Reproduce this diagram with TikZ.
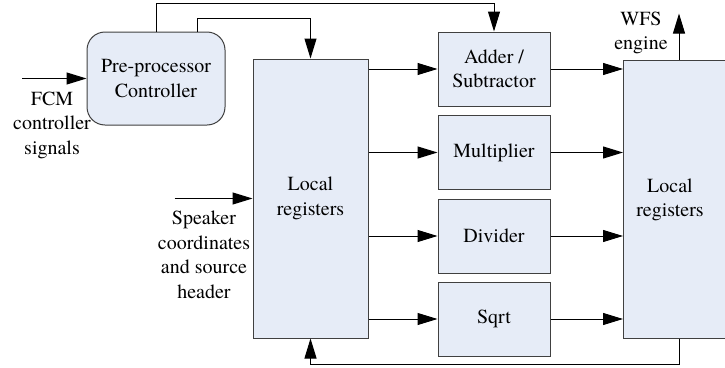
\documentclass[tikz,border=0pt]{standalone}
\usepackage{fontspec}
\setmainfont{texgyretermes-regular.otf}[BoldFont=texgyretermes-bold.otf]
\usetikzlibrary{arrows.meta}
\definecolor{boxfill}{RGB}{230,236,247}
\definecolor{boxline}{RGB}{64,64,64}
\begin{document}
\begin{tikzpicture}[x=1pt,y=-1pt,
  every node/.style={font=\fontsize{20}{24.5}\selectfont, align=center, inner sep=0pt},
  unit/.style={draw=boxline, fill=boxfill, line width=1pt, minimum width=112pt, minimum height=74pt},
  regbox/.style={draw=boxline, fill=boxfill, line width=1pt},
  arr/.style={line width=1pt, -{Triangle[length=20pt,width=12pt]}}]
\useasboundingbox (0,0) rectangle (725,367);

% controller
\node[regbox, rounded corners=18pt, minimum width=138pt, minimum height=93pt] (pre) at (156,78.5) {Pre-processor\\Controller};

% register banks
\node[regbox, minimum width=115pt, minimum height=279pt] (lreg) at (310.5,198.5) {Local\\registers};
\node[regbox, minimum width=160pt, minimum height=278pt, anchor=west] (rreg) at (623,199) {};
\node (rlabel) at (670,200) {Local\\registers};

% arithmetic units
\node[unit] (add) at (494,69) {Adder /\\Subtractor};
\node[unit] (mul) at (494,152.5) {Multiplier};
\node[unit] (div) at (494,236) {Divider};
\node[unit] (sqr) at (494,319) {Sqrt};

% external labels
\node (fcm) at (52,125) {FCM\\controller\\signals};
\node (spk) at (204,255) {Speaker\\coordinates\\and source\\header};
\node (wfs) at (641,33) {WFS\\engine};

% inputs
\coordinate (fcmin) at (22,79);
\draw[arr] (pre.west -| fcmin) -- (pre.west);
\draw[arr] ([xshift=-78pt]lreg.west) -- (lreg.west);

% control lines from the controller
\draw[arr] (pre.north) -- ++(0,-28) -| (add.north);
\draw[arr] ([xshift=41pt]pre.north) -- ++(0,-13) -| (lreg.north);

% data paths through the units
\foreach \u in {add,mul,div,sqr}{
  \draw[arr] (lreg.east |- \u.west) -- (\u.west);
  \draw[arr] (\u.east) -- (\u.east -| rreg.west);
}

% output and feedback
\draw[arr] ([xshift=56pt]rreg.north west) -- ++(0,-46);
\draw[arr] ([xshift=56pt]rreg.south west) -- ++(0,26) -| (lreg.south);
\end{tikzpicture}
\end{document}
